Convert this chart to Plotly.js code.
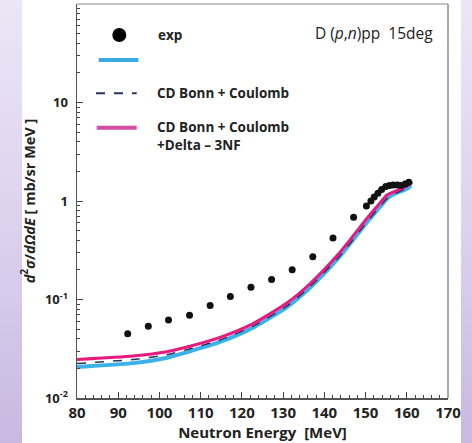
<!DOCTYPE html>
<html><head><meta charset="utf-8">
<script src="https://cdn.plot.ly/plotly-3.0.1.min.js"></script>
<style>
html,body{margin:0;padding:0;}
body{width:472px;height:443px;background:linear-gradient(180deg,#ece6f6 0%,#ddd2ee 50%,#c9b8e2 100%);}
#chart{width:472px;height:443px;}
</style></head>
<body><div id="chart"></div>
<script>
// experimental data
const expE = [92.3, 97.3, 102.2, 107.3, 112.3, 117.2, 122.2, 127.2, 132.2, 137.2, 142.1, 147.1, 150.2,
  151.3, 152.1, 153.0, 153.9, 154.9, 155.8, 156.7, 157.7, 158.6, 159.6, 160.5];
const expV = [0.045, 0.0535, 0.062, 0.069, 0.087, 0.107, 0.133, 0.160, 0.201, 0.272, 0.42, 0.684, 0.89,
  1.00, 1.10, 1.20, 1.31, 1.40, 1.44, 1.45, 1.45, 1.44, 1.49, 1.55];

// CD Bonn + Coulomb + Delta - 3NF (pink)
const pinkE = [80, 93.6, 101.8, 107.4, 114.7, 122.7, 130.9, 136.5, 143.8, 150.4, 153.5, 155.2, 160.1, 161.3];
const pinkV = [0.0246, 0.0267, 0.0295, 0.0335, 0.0412, 0.0569, 0.092, 0.1445, 0.302, 0.671, 0.955, 1.15, 1.42, 1.56];

// blue (unlabelled)
const blueE = [80, 93.6, 101.8, 107.4, 114.7, 122.7, 130.9, 136.5, 143.8, 150.4, 153.5, 155.7, 160.3, 161.0];
const blueV = [0.0207, 0.0226, 0.0256, 0.0298, 0.0371, 0.0518, 0.0838, 0.1315, 0.275, 0.611, 0.869, 1.10, 1.355, 1.45];

// CD Bonn + Coulomb (dashed)
const dashE = [80, 93.6, 101.8, 107.4, 114.7, 122.7, 130.9, 136.5, 143.8, 150.4, 153.5, 155.7, 160.3, 161.0];
const dashV = [0.0224, 0.0246, 0.0275, 0.0316, 0.0388, 0.0536, 0.0857, 0.1346, 0.278, 0.618, 0.879, 1.11, 1.37, 1.47];

const yTickVals = [0.01, 0.1, 1, 10];
const yTickText = ['10<sup>-2</sup>', '10<sup>-1</sup>', '1', '10'];

const FONT = 'Open Sans, sans-serif';

const traces = [
  {x: blueE, y: blueV, mode: 'lines', line: {color: '#3cb1e8', width: 4, shape: 'spline', smoothing: 0.6}, showlegend: false},
  {x: dashE, y: dashV, mode: 'lines', line: {color: '#26375f', width: 1.5, dash: 'dash', shape: 'spline', smoothing: 0.6}, showlegend: false},
  {x: pinkE, y: pinkV, mode: 'lines', line: {color: '#e8197f', width: 3, shape: 'spline', smoothing: 0.6}, showlegend: false},
  {x: expE, y: expV, mode: 'markers', marker: {color: '#111', size: 7}, showlegend: false}
];

function px(x){return (x-77)/371;}
function py(y){return (398-y)/394;}

const shapes = [
  {type:'rect', xref:'paper', yref:'paper', x0:px(22), x1:px(461), y0:py(443), y1:py(0), fillcolor:'#ffffff', line:{width:0}, layer:'below'},
  {type:'line', xref:'paper', yref:'paper', x0:px(77), x1:px(448), y0:py(4), y1:py(4), line:{color:'#8a8a8a', width:1}},
  {type:'line', xref:'paper', yref:'paper', x0:px(448), x1:px(448), y0:py(4), y1:py(398), line:{color:'#a8a8a8', width:2}},
  // legend
  {type:'circle', xref:'paper', yref:'paper', xsizemode:'pixel', ysizemode:'pixel', xanchor:px(119.3), yanchor:py(35), x0:-7, x1:7, y0:-7, y1:7, fillcolor:'#000', line:{width:0}},
  {type:'line', xref:'paper', yref:'paper', x0:px(98.7), x1:px(138.3), y0:py(60), y1:py(60), line:{color:'#39a9e0', width:4}},
  {type:'line', xref:'paper', yref:'paper', x0:px(96), x1:px(136.7), y0:py(93.3), y1:py(93.3), line:{color:'#26375f', width:2, dash:'dash'}},
  {type:'line', xref:'paper', yref:'paper', x0:px(96.7), x1:px(136.7), y0:py(127.7), y1:py(127.7), line:{color:'#d44ea3', width:4}}
];

const legFont = {family: FONT, size: 13.5, color: '#222', weight: 'bold'};
const annotations = [
  {xref:'paper', yref:'paper', x:px(156), y:py(35), xanchor:'left', yanchor:'middle', text:'exp', showarrow:false, font:legFont},
  {xref:'paper', yref:'paper', x:px(155), y:py(93), xanchor:'left', yanchor:'middle', text:'CD Bonn + Coulomb', showarrow:false, font:legFont},
  {xref:'paper', yref:'paper', x:px(155), y:py(136), xanchor:'left', yanchor:'middle', align:'left', text:'CD Bonn + Coulomb<br>+Delta \u2013 3NF', showarrow:false, font:legFont},
  {xref:'paper', yref:'paper', x:px(435), y:py(33), xanchor:'right', yanchor:'middle', text:'D (<i>p</i>,<i>n</i>)pp\u00a0 15deg', showarrow:false, font:{family: FONT, size: 15.5, color:'#222'}}
];

const layout = {
  width: 472, height: 443,
  margin: {l: 77, r: 24, t: 4, b: 45, pad: 0},
  paper_bgcolor: 'rgba(0,0,0,0)',
  plot_bgcolor: '#ffffff',
  showlegend: false,
  xaxis: {
    range: [80, 170], dtick: 10, tick0: 80,
    ticks: 'inside', ticklen: 6, tickwidth: 1, tickcolor: '#444',
    minor: {dtick: 2, ticks: 'inside', ticklen: 3, tickcolor: '#444', showgrid: false},
    showline: true, linecolor: '#555', linewidth: 1.5,
    showgrid: false, zeroline: false,
    tickfont: {family: FONT, size: 15, color: '#222', weight: 'bold'},
    title: {text: 'Neutron Energy\u00a0 [MeV]', font: {family: FONT, size: 15, color: '#222', weight: 'bold'}, standoff: 5}
  },
  yaxis: {
    type: 'log', range: [-2, 2],
    tickvals: yTickVals, ticktext: yTickText,
    ticks: 'inside', ticklen: 6, tickwidth: 1, tickcolor: '#444',
    ticklabelstandoff: 5,
    minor: {dtick: 'D1', ticks: 'inside', ticklen: 3, tickcolor: '#444', showgrid: false},
    showline: true, linecolor: '#555', linewidth: 1.5,
    showgrid: false, zeroline: false,
    tickfont: {family: FONT, size: 13, color: '#222', weight: 'bold'},
    title: {text: '<i>d</i><sup>2</sup><i>σ</i>/<i>dΩdE</i> [ mb/sr MeV ]', font: {family: FONT, size: 14.5, color: '#222', weight: 'bold'}, standoff: 6}
  },
  shapes: shapes,
  annotations: annotations
};

Plotly.newPlot('chart', traces, layout, {displayModeBar: false, staticPlot: true});
</script>
</body></html>
